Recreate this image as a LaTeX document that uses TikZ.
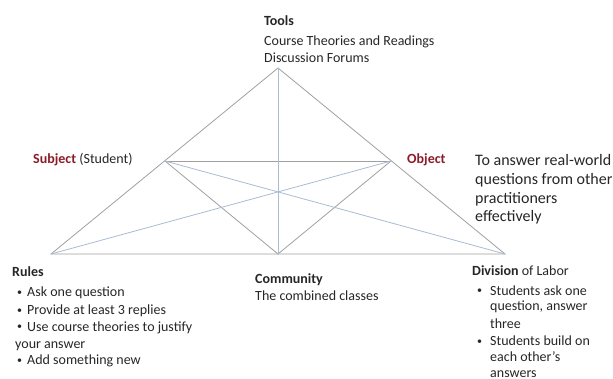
\documentclass[tikz,border=0pt]{standalone}
\usepackage{fontspec}
\setmainfont{Carlito}
\definecolor{edgegray}{RGB}{160,160,160}
\definecolor{edgeblue}{RGB}{168,188,212}
\definecolor{headred}{RGB}{138,28,40}
\definecolor{txtgray}{RGB}{38,38,38}

\begin{document}
\begin{tikzpicture}[x=1pt,y=-1pt,
  edge/.style={edgegray,line width=0.8pt},
  cross/.style={edgeblue,line width=0.8pt},
  lbl/.style={anchor=base west,inner sep=0pt,text=txtgray,font=\fontsize{14}{17}\selectfont},
  biglbl/.style={lbl,font=\fontsize{16}{19}\selectfont},
  dot/.style={lbl,font=\fontsize{10}{10}\selectfont}]
\useasboundingbox (0,0) rectangle (613,379);

% corners of the triangle
\coordinate (tools) at (278,68);
\coordinate (subj) at (165,161);
\coordinate (obj) at (391,161);
\coordinate (rules) at (51,254);
\coordinate (comm) at (278,254);
\coordinate (div) at (505,254);

\draw [edge] (tools) -- (rules) -- (div) -- cycle;
\draw [edge] (subj) -- (obj);
\draw [edge] (subj) -- (comm) -- (obj);
\draw [cross] (tools) -- (comm);
\draw [cross] (subj) -- (div);
\draw [cross] (obj) -- (rules);

% tools
\node [lbl] (toolshead) at (264,26) {\textbf{Tools}};
\node [lbl] (tools1) at (264,46) {Course Theories and Readings};
\node [lbl] (tools2) at (264,63) {Discussion Forums};

% subject and object
\node [lbl] (subjhead) at (33,164) {\textbf{\textcolor{headred}{Subject}} (Student)};
\node [lbl] (objhead) at (407,164) {\textbf{\textcolor{headred}{Object}}};
\foreach \y/\t [count=\i] in {166/To answer real-world, 185/questions from other,
    204/practitioners, 222/effectively}
  \node [biglbl] (goal\i) at (475,\y) {\t};

% rules
\node [lbl] (ruleshead) at (12,277) {\textbf{Rules}};
\foreach \y [count=\i] in {297,314,331,364}
  \node [dot] (rb\i) at (17,\y-1) {•};
\foreach \x/\y/\t [count=\i] in {27/297/Ask one question, 27/314/Provide at least 3 replies,
    27/331/Use course theories to justify, 15/348/your answer, 27/364/Add something new}
  \node [lbl] (rule\i) at (\x,\y) {\t};

% community
\node [lbl] (commhead) at (255,284) {\textbf{Community}};
\node [lbl] (comm1) at (255,301) {The combined classes};

% division of labor
\node [lbl] (divhead) at (472,276) {\textbf{Division} of Labor};
\foreach \y [count=\i] in {295,345}
  \node [dot] (db\i) at (477,\y-1) {•};
\foreach \y/\t [count=\i] in {295/Students ask one, 311/{question, answer}, 328/three,
    345/Students build on, 361/each other’s, 377/answers}
  \node [lbl] (div\i) at (490,\y) {\t};
\end{tikzpicture}
\end{document}
